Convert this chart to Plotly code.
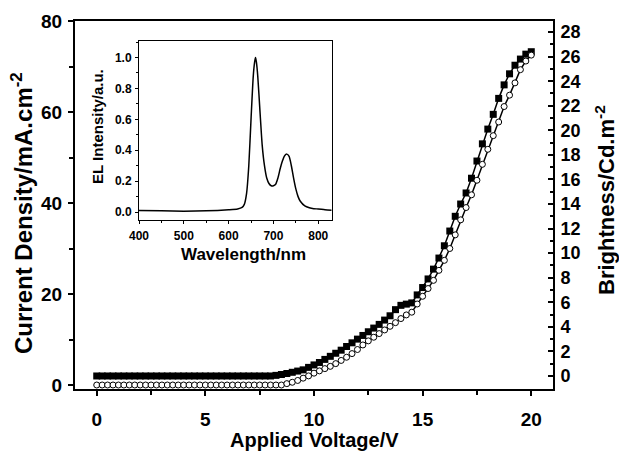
import plotly.graph_objects as go

# ---------------- data ----------------
voltage = [i * 0.25 for i in range(81)]  # 0 .. 20 V

current_density = (
    [0.0] * 35 +  # 0 .. 8.5 V
    [0.3, 0.6, 1.0, 1.5, 2.0, 2.6, 3.1, 3.6, 4.1, 4.7, 5.4, 6.1, 6.9, 7.8, 8.8, 9.7,
     10.5, 11.3, 12.1, 12.9, 13.7, 14.6, 15.4, 16.0, 17.8, 19.5, 21.2, 23.0, 25.2, 27.4,
     30.0, 33.0, 36.3, 39.0, 41.8, 45.0, 48.5, 51.8, 54.8, 57.8, 61.2, 63.7, 66.4, 69.3,
     71.2, 72.5]
)

brightness = (
    [0.0] * 33 +  # 0 .. 8.0 V
    [0.05, 0.12, 0.2, 0.3, 0.4, 0.5, 0.7, 0.9, 1.1, 1.35, 1.6, 1.85, 2.1, 2.4, 2.7, 3.0,
     3.3, 3.6, 3.9, 4.2, 4.55, 4.9, 5.4, 5.75, 5.85, 5.95, 6.6, 7.2, 7.9, 8.7, 9.6, 10.6,
     11.8, 13.0, 14.0, 14.9, 16.1, 17.5, 18.9, 20.1, 21.3, 22.6, 23.7, 24.6, 25.3, 25.8,
     26.2, 26.4]
)

wavelength = [400, 450, 500, 550, 600, 620, 630, 635, 640, 645, 650, 655, 658, 660, 662,
              665, 670, 675, 680, 685, 690, 695, 700, 705, 710, 715, 720, 725, 730, 735,
              740, 745, 750, 755, 760, 770, 780, 790, 800, 815, 830]
el_intensity = [0.01, 0.008, 0.006, 0.008, 0.015, 0.02, 0.03, 0.05, 0.12, 0.3, 0.6, 0.88,
                0.97, 1.0, 0.97, 0.88, 0.65, 0.43, 0.3, 0.22, 0.185, 0.17, 0.17, 0.18,
                0.22, 0.28, 0.33, 0.365, 0.375, 0.36, 0.3, 0.22, 0.15, 0.1, 0.07, 0.04,
                0.028, 0.022, 0.02, 0.015, 0.012]

FONT = "Liberation Sans"

fig = go.Figure()

# Brightness (squares) on the right axis (primary y)
fig.add_trace(go.Scatter(
    x=voltage, y=brightness, mode="lines+markers", xaxis="x", yaxis="y",
    line=dict(color="black", width=1.5),
    marker=dict(symbol="square", size=7, color="black", line=dict(width=0)),
    showlegend=False))

# Current density (open circles) on the left axis (overlaying y2)
fig.add_trace(go.Scatter(
    x=voltage, y=current_density, mode="lines+markers", xaxis="x", yaxis="y2",
    line=dict(color="black", width=1.5),
    marker=dict(symbol="circle", size=6, color="white", line=dict(color="black", width=1)),
    showlegend=False))

# Inset EL spectrum
fig.add_trace(go.Scatter(
    x=wavelength, y=el_intensity, mode="lines", xaxis="x3", yaxis="y3",
    line=dict(color="black", width=1.5, shape="spline", smoothing=0.6),
    showlegend=False))

tickfont = dict(family=FONT, size=19, color="black", weight="bold")
small_tick = dict(family=FONT, size=12, color="black", weight="bold")

fig.update_layout(
    width=619, height=453,
    margin=dict(l=75, r=66, t=21, b=64),
    paper_bgcolor="white", plot_bgcolor="white",
    font=dict(family=FONT, color="black"),
    xaxis=dict(
        domain=[0, 1], range=[-1, 21], anchor="y",
        showgrid=False, zeroline=False,
        showline=True, linecolor="black", linewidth=2, mirror=True,
        tickmode="linear", tick0=0, dtick=5,
        ticks="outside", ticklen=5, tickwidth=2, tickcolor="black",
        minor=dict(dtick=2.5, tick0=0, ticks="outside", ticklen=4, tickwidth=2, tickcolor="black"),
        tickfont=tickfont, ticklabelstandoff=7,
    ),
    yaxis=dict(
        domain=[0, 1], range=[-1.06, 28.9], anchor="x", side="right",
        showgrid=False, zeroline=False,
        showline=True, linecolor="black", linewidth=2,
        tickmode="linear", tick0=0, dtick=2,
        ticks="inside", ticklen=5, tickwidth=2, tickcolor="black",
        minor=dict(dtick=1, tick0=0, ticks="inside", ticklen=3, tickwidth=1.5, tickcolor="black"),
        tickfont=dict(family=FONT, size=18, color="black", weight="bold"),
        ticklabelstandoff=2,
    ),
    yaxis2=dict(
        range=[-0.88, 80], overlaying="y", anchor="x", side="left",
        showgrid=False, zeroline=False,
        showline=True, linecolor="black", linewidth=2,
        tickmode="linear", tick0=0, dtick=20,
        ticks="outside", ticklen=5, tickwidth=2, tickcolor="black",
        minor=dict(dtick=10, tick0=0, ticks="outside", ticklen=4, tickwidth=2, tickcolor="black"),
        tickfont=tickfont, ticklabelstandoff=2,
    ),
    xaxis3=dict(
        domain=[0.1339, 0.537], range=[400, 830], anchor="y3",
        showgrid=False, zeroline=False,
        showline=True, linecolor="black", linewidth=1, mirror=True,
        tickmode="linear", tick0=400, dtick=100,
        ticks="outside", ticklen=3, tickwidth=1, tickcolor="black",
        minor=dict(dtick=50, tick0=400, ticks="outside", ticklen=2, tickwidth=1, tickcolor="black"),
        tickfont=small_tick, ticklabelstandoff=1,
    ),
    yaxis3=dict(
        domain=[0.4589, 0.9457], range=[-0.052, 1.107], anchor="x3",
        showgrid=False, zeroline=False,
        showline=True, linecolor="black", linewidth=1, mirror=True,
        tickmode="linear", tick0=0, dtick=0.2, tickformat=".1f",
        ticks="outside", ticklen=3, tickwidth=1, tickcolor="black",
        minor=dict(dtick=0.1, tick0=0, ticks="outside", ticklen=2, tickwidth=1, tickcolor="black"),
        tickfont=small_tick, ticklabelstandoff=1,
    ),
)

title_font = dict(family=FONT, size=20, color="black", weight="bold")


def px_x(px):
    return (px - 75) / 478.0


def px_y(py):
    return (389 - py) / 368.0


fig.update_layout(annotations=[
    dict(text="Applied Voltage/V", x=px_x(314), y=px_y(440), xref="paper", yref="paper",
         showarrow=False, font=title_font, xanchor="center", yanchor="middle"),
    dict(text="Current Density/mA.cm<sup>-2</sup>", x=px_x(22), y=px_y(213), xref="paper",
         yref="paper", showarrow=False, font=dict(family=FONT, size=24, color="black", weight="bold"),
         textangle=-90, xanchor="center", yanchor="middle"),
    dict(text="Brightness/Cd.m<sup>-2</sup>", x=px_x(605), y=px_y(200), xref="paper",
         yref="paper", showarrow=False, font=dict(family=FONT, size=22, color="black", weight="bold"),
         textangle=-90, xanchor="center", yanchor="middle"),
    dict(text="Wavelength/nm", x=px_x(243), y=px_y(254), xref="paper", yref="paper",
         showarrow=False, font=dict(family=FONT, size=17, color="black", weight="bold"),
         xanchor="center", yanchor="middle"),
    dict(text="EL Intensity/a.u.", x=px_x(98), y=px_y(127), xref="paper", yref="paper",
         showarrow=False, font=dict(family=FONT, size=15, color="black", weight="bold"),
         textangle=-90, xanchor="center", yanchor="middle"),
])

fig.write_html(
    "out.html",
    config={"displayModeBar": False},
    post_script="document.body.style.margin='0';document.body.style.overflow='hidden';",
)
